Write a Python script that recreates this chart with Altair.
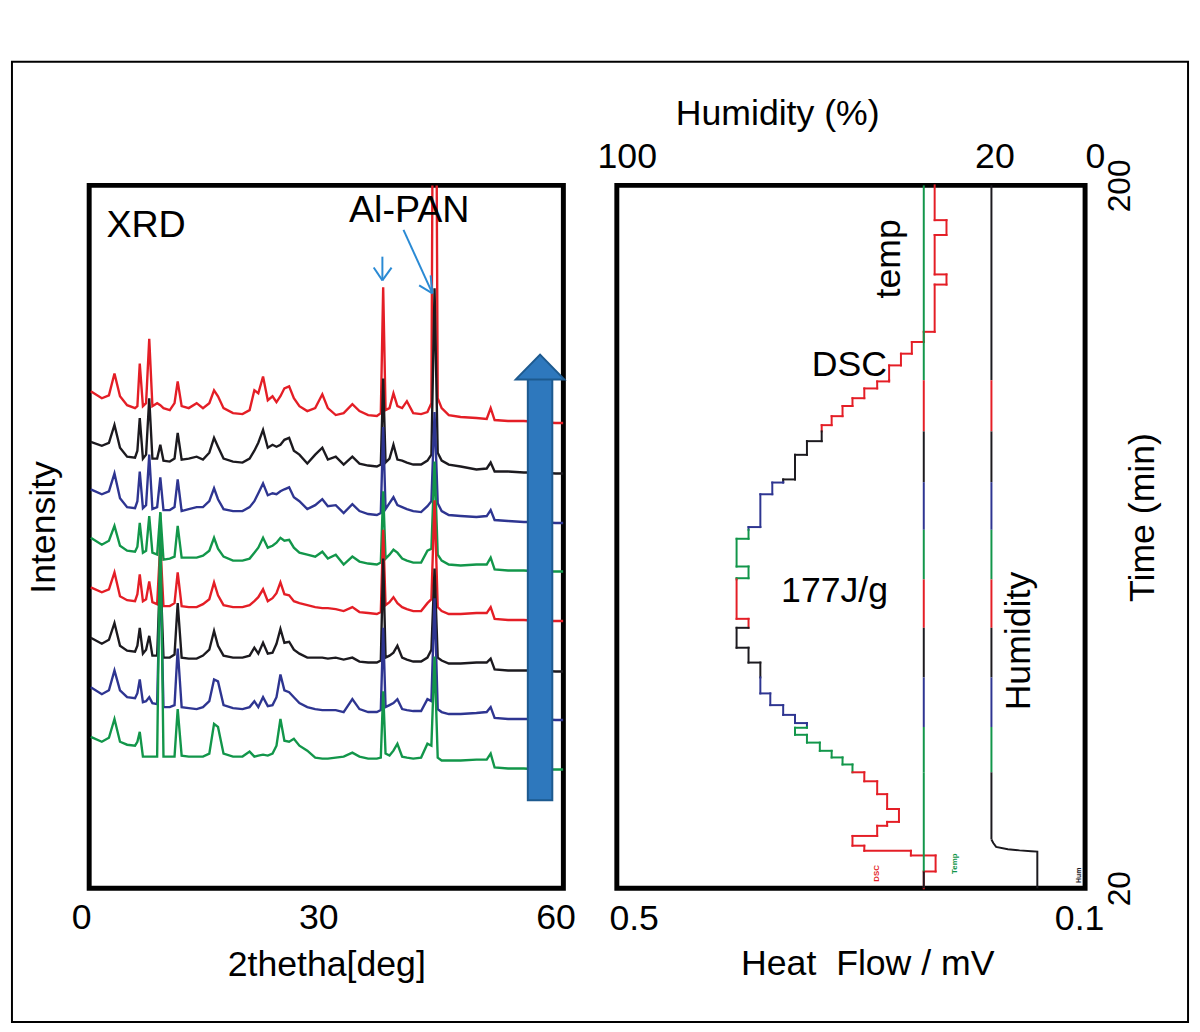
import altair as alt
import pandas as pd

FONT = "Liberation Sans"
RED = "#E41E26"
BLACK = "#1C1A1F"
BLUE = "#2E3591"
GREEN = "#12964A"
ARROW_FILL = "#2E78BD"
ARROW_EDGE = "#1D5A8F"
NOTE_BLUE = "#2A8AD4"

# ---------------- XRD (left panel) ----------------
two_theta = [0.2, 1.6, 2.5, 3.2, 3.9, 4.8, 5.8, 6.1, 6.4, 6.8,
             7.2, 7.6, 8.0, 8.6, 9.0, 9.4, 10.2, 10.8, 11.2, 11.7,
             12.6, 13.6, 14.4, 15.2, 15.8, 16.3, 17.0, 18.2, 19.4, 20.3,
             20.9, 21.4, 22.0, 22.6, 23.2, 23.7, 24.2, 24.7, 25.3, 25.9,
             26.6, 27.6, 28.6, 29.5, 30.2, 31.2, 32.2, 33.3, 34.2, 35.3,
             36.4, 36.9, 37.2, 37.5, 38.0, 38.5, 39.0, 39.6, 40.2, 41.0,
             42.0, 42.8, 43.3, 43.7, 44.1, 44.6, 45.5, 47.0, 49.0, 50.3,
             50.8, 51.3, 53.0, 55.0, 57.0, 59.0, 60.0]

xrd_1_red = [32, 25, 28, 50, 27, 18, 15, 17, 60, 17,
             20, 85, 17, 20, 18, 15, 13, 20, 42, 17,
             15, 20, 15, 20, 33, 27, 15, 10, 9, 13,
             33, 30, 47, 23, 27, 21, 27, 35, 37, 25,
             17, 12, 15, 29, 15, 8, 10, 19, 12, 8,
             7, 10, 137, 13, 15, 30, 17, 15, 22, 10,
             9, 11, 20, 720, 25, 15, 8, 6, 5, 4,
             15, 3, 2, 2, 1, 0, 0]
xrd_2_black = [31, 27, 30, 48, 25, 16, 15, 22, 55, 14,
               18, 75, 14, 14, 28, 12, 11, 14, 40, 13,
               14, 16, 13, 20, 35, 26, 14, 11, 10, 14,
               22, 30, 43, 25, 28, 26, 28, 33, 35, 22,
               18, 9, 18, 25, 13, 16, 8, 16, 9, 7,
               6, 8, 95, 10, 14, 28, 13, 12, 10, 8,
               8, 12, 18, 186, 20, 12, 8, 6, 3, 4,
               10, 1, 1, 0, 0, -1, -1]
xrd_3_blue = [32, 27, 30, 48, 23, 14, 13, 20, 50, 13,
              16, 67, 12, 14, 44, 11, 11, 14, 42, 10,
              12, 14, 14, 20, 33, 22, 12, 10, 10, 14,
              20, 28, 38, 26, 28, 27, 30, 32, 34, 24,
              20, 12, 16, 22, 15, 16, 8, 17, 10, 7,
              6, 8, 95, 12, 18, 24, 16, 14, 12, 10,
              9, 15, 20, 110, 18, 10, 6, 5, 4, 5,
              11, 1, 0, -1, -1, -2, -2]
xrd_4_green = [33, 26, 30, 45, 25, 20, 19, 24, 48, 18,
               20, 55, 18, 16, 59, 11, 12, 14, 45, 13,
               13, 13, 15, 20, 33, 22, 14, 10, 10, 12,
               18, 23, 33, 23, 25, 28, 33, 30, 31, 23,
               18, 16, 14, 19, 12, 16, 6, 14, 9, 7,
               6, 8, 80, 12, 16, 21, 18, 12, 10, 8,
               8, 20, 22, 110, 16, 10, 6, 5, 6, 6,
               13, 1, 0, 0, -1, -1, -1]
xrd_5_red = [32, 27, 30, 47, 23, 19, 18, 25, 45, 18,
             20, 38, 17, 15, 76, 13, 13, 16, 47, 13,
             12, 12, 15, 20, 37, 24, 14, 12, 12, 14,
             18, 22, 30, 18, 21, 26, 37, 25, 24, 18,
             16, 14, 12, 11, 11, 10, 8, 12, 7, 6,
             5, 7, 90, 14, 17, 22, 16, 12, 10, 8,
             8, 16, 20, 120, 12, 8, 5, 5, 6, 6,
             12, 0, -1, -1, -2, -2, -2]
xrd_6_black = [30, 24, 28, 45, 22, 17, 16, 22, 40, 14,
               18, 32, 12, 12, 100, 10, 10, 13, 65, 10,
               9, 9, 12, 18, 37, 22, 12, 10, 10, 12,
               20, 14, 25, 14, 15, 24, 39, 25, 26, 18,
               14, 10, 10, 10, 9, 10, 8, 10, 6, 5,
               5, 7, 110, 10, 12, 15, 22, 10, 8, 6,
               6, 10, 18, 100, 10, 7, 4, 4, 5, 5,
               9, -2, -3, -3, -3, -4, -4]
xrd_7_blue = [30, 23, 27, 47, 27, 20, 19, 24, 38, 15,
              16, 20, 14, 13, 150, 10, 10, 12, 69, 10,
              9, 8, 10, 16, 38, 36, 12, 9, 8, 10,
              16, 10, 20, 11, 12, 20, 43, 27, 25, 20,
              14, 10, 8, 7, 7, 7, 5, 18, 8, 5,
              5, 7, 90, 10, 12, 14, 18, 8, 7, 6,
              6, 18, 16, 120, 8, 5, 3, 3, 4, 5,
              10, -1, -2, -2, -2, -3, -3]
xrd_8_green = [29, 24, 28, 47, 24, 21, 20, 24, 34, 9,
               9, 9, 9, 9, 255, 9, 9, 9, 57, 10,
               9, 9, 9, 12, 42, 39, 12, 9, 9, 14,
               9, 10, 11, 10, 12, 20, 47, 25, 24, 27,
               20, 15, 8, 7, 7, 8, 9, 13, 9, 7,
               7, 8, 75, 12, 10, 15, 22, 9, 8, 7,
               8, 22, 20, 110, 8, 5, 5, 5, 6, 6,
               12, -2, -3, -3, -4, -4, -4]

xrd_series = [xrd_1_red, xrd_2_black, xrd_3_blue, xrd_4_green,
              xrd_5_red, xrd_6_black, xrd_7_blue, xrd_8_green]
xrd_offsets = [470, 420, 371, 321, 272, 223, 173, 124]
xrd_colors = [RED, BLACK, BLUE, GREEN, RED, BLACK, BLUE, GREEN]

left_labels = ["XRD", "Al-PAN"]
left_label_x = [7.2, 40.5]
left_label_y = [669, 684]

# small annotation arrows (2theta, intensity)
note_x = [37.1, 36.0, 38.26, 39.77, 41.75, 43.2]
note_y = [638, 627, 627, 665, 609, 619]
note_x2 = [37.1, 37.1, 37.1, 43.43, 43.43, 43.43]
note_y2 = [614, 614, 614, 601, 601, 601]

# big time arrow (2theta, intensity)
arrow_shaft = {"x": [55.5], "x2": [58.6], "y": [89], "y2": [516]}
arrow_head = {"x": [57.05], "y": [526.5]}

# ---------------- DSC / temp / humidity (right panel) ----------------
dsc_time = [200.0, 191.1, 187.3, 177.2, 174.6, 162.5, 159.9, 156.9, 153.9, 149.8,
            148.0, 145.5, 143.5, 140.9, 138.6, 134.5, 131.0, 124.7, 123.9, 120.9,
            112.5, 109.5, 102.4, 99.4, 89.0, 86.7, 81.6, 77.8, 69.9, 66.9,
            64.4, 62.3, 61.1, 59.3, 57.3, 55.2, 53.5, 51.7, 49.7, 47.4,
            44.1, 40.3, 37.0, 36.0, 33.4, 30.9, 29.6, 28.4, 24.3, 20.0]
dsc_heat = [0.2285, 0.2184, 0.2285, 0.2184, 0.2285, 0.2378, 0.2480, 0.2573, 0.2674, 0.2776,
            0.2886, 0.2987, 0.3072, 0.3165, 0.3250, 0.3376, 0.3478, 0.3579, 0.3672, 0.3774,
            0.3875, 0.3977, 0.3875, 0.3977, 0.3875, 0.3977, 0.3875, 0.3774, 0.3689, 0.3579,
            0.3478, 0.3376, 0.3478, 0.3376, 0.3266, 0.3165, 0.3072, 0.2987, 0.2886, 0.2776,
            0.2691, 0.2590, 0.2691, 0.2776, 0.2987, 0.2886, 0.2488, 0.2277, 0.2378]

band_edges = [150.1, 137.0, 124.0, 111.8, 99.1, 86.7, 74.0, 61.3, 49.7]
band_colors = [RED, BLACK, BLUE, GREEN, RED, BLACK, BLUE, GREEN]

temp_position = 0.2378
temp_end = 24.3
humidity_level = 20.0
humidity_tail_time = [32.5, 31.6, 30.6, 30.0, 29.7, 29.5, 29.4, 20.0]
humidity_tail_value = [20.0, 19.6, 19.0, 16.5, 14.0, 11.5, 10.2, 10.2]


def band_color(t, default):
    for j, c in enumerate(band_colors):
        if band_edges[j] >= t > band_edges[j + 1]:
            return c
    return default


def split_vertical(xv, t_a, t_b, default):
    cuts = [t_a] + [e for e in band_edges if t_b < e < t_a] + [t_b]
    return [dict(x=xv, x2=xv, y=a, y2=b, c=band_color((a + b) / 2, default))
            for a, b in zip(cuts[:-1], cuts[1:])]


dsc_rows = []
n = len(dsc_heat)
for i in range(n):
    dsc_rows += split_vertical(dsc_heat[i], dsc_time[i], dsc_time[i + 1], RED)
    if i < n - 1:
        dsc_rows.append(dict(x=dsc_heat[i], x2=dsc_heat[i + 1], y=dsc_time[i + 1],
                             y2=dsc_time[i + 1], c=band_color(dsc_time[i + 1] - 0.01, RED)))
dsc_df = pd.DataFrame(dsc_rows)

temp_rows = split_vertical(temp_position, 200.0, temp_end, GREEN)
temp_rows.append(dict(x=temp_position, x2=temp_position, y=temp_end, y2=20.0, c=BLACK))
temp_df = pd.DataFrame(temp_rows)

hum_df = pd.DataFrame(split_vertical(humidity_level, 200.0, humidity_tail_time[0], BLACK))
tail_df = pd.DataFrame({"x": humidity_tail_value, "y": humidity_tail_time,
                        "i": list(range(len(humidity_tail_time)))})

# ---------------- scales & axes ----------------
th_scale = alt.Scale(domain=[0, 60], nice=False, zero=False)
int_scale = alt.Scale(domain=[0, 710], nice=False, zero=False)
hf_scale = alt.Scale(domain=[0.5, 0.1], nice=False, zero=False)
hum_scale = alt.Scale(domain=[100, 0], nice=False, zero=False)
t_scale = alt.Scale(domain=[20, 200], nice=False, zero=False)

x_th = alt.X("x:Q", scale=th_scale, axis=alt.Axis(
    values=[0, 30, 60], title="2thetha[deg]", labelFlush=False, labelOffset=-8,
    labelPadding=13, titleY=77, titleAlign="center", titleBaseline="middle"))
y_int = alt.Y("y:Q", scale=int_scale, axis=alt.Axis(
    labels=False, title="Intensity", titleX=-46, titleY=345, titleAngle=270,
    titleAlign="center", titleBaseline="middle"))

x_hf = alt.X("x:Q", scale=hf_scale, axis=alt.Axis(
    orient="bottom", values=[0.5, 0.1], title="Heat\u00a0 Flow / mV", labelFlush=False,
    labelOffset={"condition": {"test": "datum.value == 0.5", "value": 17}, "value": -6},
    labelPadding=14, titleX=253, titleY=76, titleAlign="center", titleBaseline="middle"))
x_hum = alt.X("x:Q", scale=hum_scale, axis=alt.Axis(
    orient="top", values=[100, 20, 0], title="Humidity (%)", labelFlush=False,
    labelOffset={"condition": {"test": "datum.value == 20", "value": 3}, "value": 10},
    labelPadding=10, titleX=162, titleY=-72, titleAlign="center", titleBaseline="middle"))
y_t = alt.Y("y:Q", scale=t_scale, axis=alt.Axis(
    orient="right", values=[20, 200], labelAngle=270, labelAlign="center",
    labelBaseline="top", labelFontSize=32, labelPadding=20, labelFlush=False,
    title="Time (min)", titleAngle=270, titleX=58, titleY=335,
    titleAlign="center", titleBaseline="middle"))

# ---------------- left panel ----------------
left_layers = []
for vals, off, col in zip(xrd_series, xrd_offsets, xrd_colors):
    df = pd.DataFrame({"x": two_theta, "y": [off + v for v in vals]})
    left_layers.append(alt.Chart(df).mark_line(color=col, strokeWidth=2.4, clip=True)
                       .encode(x=x_th, y=y_int))

shaft = alt.Chart(pd.DataFrame(arrow_shaft)).mark_rect(
    fill=ARROW_FILL, stroke=ARROW_EDGE, strokeWidth=2).encode(
    x=x_th, x2="x2", y=y_int, y2="y2")
head = alt.Chart(pd.DataFrame(arrow_head)).mark_point(
    shape="M -1 0.51 L 0 -0.51 L 1 0.51 Z", size=2401, filled=True,
    fill=ARROW_FILL, stroke=ARROW_EDGE, strokeWidth=2, opacity=1,
    fillOpacity=1, strokeOpacity=1).encode(x=x_th, y=y_int)
notes = alt.Chart(pd.DataFrame({"x": note_x, "y": note_y, "x2": note_x2, "y2": note_y2})
                  ).mark_rule(color=NOTE_BLUE, strokeWidth=2).encode(
    x=x_th, y=y_int, x2="x2", y2="y2")
left_text = alt.Chart(pd.DataFrame({"x": left_label_x, "y": left_label_y, "t": left_labels})
                      ).mark_text(font=FONT, fontSize=38, color="black", align="center",
                                  baseline="middle").encode(x=x_th, y=y_int, text="t:N")
frame = alt.Chart(pd.DataFrame({"k": [0]})).mark_rect(
    filled=False, stroke="black", strokeWidth=2).encode(
    x=alt.value(-78), x2=alt.value(1110), y=alt.value(-125), y2=alt.value(845))

left = alt.layer(*left_layers, shaft, head, notes, left_text, frame).properties(
    width=479, height=710)

# ---------------- right panel ----------------
color_id = alt.Color("c:N", scale=None)
dsc = alt.Chart(dsc_df).mark_rule(strokeWidth=2, strokeCap="square").encode(
    x=x_hf, x2="x2", y=y_t, y2="y2", color=color_id)
temp = alt.Chart(temp_df).mark_rule(strokeWidth=2).encode(
    x=x_hf, x2="x2", y=y_t, y2="y2", color=color_id)

flat_text = alt.Chart(pd.DataFrame({"x": [0.3013, 0.3140], "y": [154.1, 96.2],
                                    "t": ["DSC", "177J/g"]})).mark_text(
    font=FONT, fontSize=36, color="black", align="center", baseline="middle").encode(
    x=x_hf, y=y_t, text="t:N")
rot_text = alt.Chart(pd.DataFrame({"x": [0.2674, 0.1562], "y": [181.2, 83.3],
                                   "t": ["temp", "Humidity"]})).mark_text(
    font=FONT, fontSize=36, color="black", align="center", baseline="middle",
    angle=270).encode(x=x_hf, y=y_t, text="t:N")
tiny_text = alt.Chart(pd.DataFrame({"x": [0.2776, 0.2108], "y": [23.8, 26.3],
                                    "t": ["DSC", "Temp"], "c": [RED, GREEN]})).mark_text(
    font=FONT, fontSize=8, fontWeight="bold", align="center", baseline="middle",
    angle=270).encode(x=x_hf, y=y_t, text="t:N", color=color_id)

hum = alt.Chart(hum_df).mark_rule(strokeWidth=2).encode(
    x=x_hum, x2="x2", y=y_t, y2="y2", color=color_id)
hum_tail = alt.Chart(tail_df).mark_line(color=BLACK, strokeWidth=2).encode(
    x=x_hum, y=y_t, order="i:Q")
hum_tiny = alt.Chart(pd.DataFrame({"x": [1.3], "y": [23.3], "t": ["Hum"]})).mark_text(
    font=FONT, fontSize=7, fontWeight="bold", color=BLACK, align="center",
    baseline="middle", angle=270).encode(x=x_hum, y=y_t, text="t:N")

heat_layer = alt.layer(dsc, temp, flat_text, rot_text, tiny_text)
hum_layer = alt.layer(hum, hum_tail, hum_tiny)
right = alt.layer(heat_layer, hum_layer).resolve_scale(x="independent").properties(
    width=473, height=710)

chart = alt.hconcat(left, right, spacing=54, bounds="flush").properties(
    padding={"left": 0, "top": 45, "right": 0, "bottom": 0},
    background="white",
).configure_view(stroke="black", strokeWidth=5).configure_axis(
    grid=False, domain=False, ticks=False, labelFont=FONT, titleFont=FONT,
    labelFontSize=36, titleFontSize=36, titleFontWeight="normal",
    labelColor="black", titleColor="black", labelOverlap=False)

chart.save("out.html", embed_options={"renderer": "svg", "actions": False})
